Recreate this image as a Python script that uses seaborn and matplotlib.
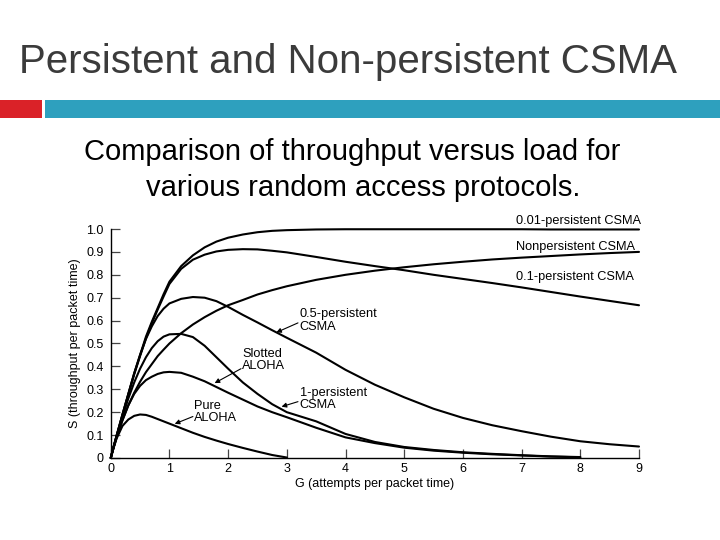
import matplotlib
matplotlib.use("Agg")
import matplotlib.pyplot as plt
import seaborn as sns
import pandas as pd
from matplotlib.patches import Rectangle

# ---------------- data ----------------
title = "Persistent and Non-persistent CSMA"
subtitle_1 = "Comparison of throughput versus load for"
subtitle_2 = "various random access protocols."
x_label = "G (attempts per packet time)"
y_label = "S (throughput per packet time)"

x_ticks = [0, 1, 2, 3, 4, 5, 6, 7, 8, 9]
x_tick_labels = ["0", "1", "2", "3", "4", "5", "6", "7", "8", "9"]
y_ticks = [0, 0.1, 0.2, 0.3, 0.4, 0.5, 0.6, 0.7, 0.8, 0.9, 1.0]
y_tick_labels = ["0", "0.1", "0.2", "0.3", "0.4", "0.5", "0.6", "0.7", "0.8", "0.9", "1.0"]

g_to_9 = [0, 0.05, 0.1, 0.2, 0.3, 0.4, 0.5, 0.6, 0.7, 0.8, 0.9, 1.0, 1.2, 1.4, 1.6, 1.8,
          2.0, 2.25, 2.5, 2.75, 3.0, 3.5, 4.0, 4.5, 5.0, 5.5, 6.0, 6.5, 7.0, 7.5, 8.0, 8.5, 9.0]
g_to_8 = g_to_9[:-2]
g_to_3 = [0, 0.05, 0.1, 0.2, 0.3, 0.4, 0.5, 0.6, 0.7, 0.8, 0.9, 1.0, 1.2, 1.4, 1.6, 1.8,
          2.0, 2.25, 2.5, 2.75, 3.0]

s_001_persistent = [0, 0.05, 0.098, 0.19, 0.28, 0.37, 0.45, 0.53, 0.595, 0.655, 0.715, 0.77,
                    0.838, 0.885, 0.92, 0.945, 0.962, 0.976, 0.986, 0.992, 0.995, 0.998, 0.999,
                    0.999, 0.999, 0.999, 0.999, 0.999, 0.999, 0.998, 0.998, 0.998, 0.998]
s_nonpersistent = [0, 0.047, 0.09, 0.165, 0.23, 0.285, 0.333, 0.375, 0.41, 0.445, 0.473, 0.5,
                   0.545, 0.583, 0.615, 0.643, 0.667, 0.69, 0.714, 0.733, 0.75, 0.778, 0.8,
                   0.818, 0.833, 0.846, 0.857, 0.867, 0.875, 0.882, 0.889, 0.895, 0.9]
s_01_persistent = [0, 0.05, 0.097, 0.188, 0.277, 0.365, 0.445, 0.522, 0.588, 0.648, 0.705, 0.76,
                   0.826, 0.866, 0.888, 0.902, 0.909, 0.912, 0.911, 0.905, 0.898, 0.878, 0.857,
                   0.838, 0.82, 0.80, 0.782, 0.764, 0.745, 0.725, 0.705, 0.686, 0.667]
s_05_persistent = [0, 0.05, 0.097, 0.19, 0.28, 0.37, 0.45, 0.52, 0.575, 0.62, 0.652, 0.675,
                   0.695, 0.703, 0.70, 0.685, 0.66, 0.625, 0.592, 0.558, 0.525, 0.46, 0.385,
                   0.32, 0.265, 0.215, 0.175, 0.143, 0.117, 0.093, 0.073, 0.06, 0.05]
s_1_persistent = [0, 0.048, 0.095, 0.18, 0.26, 0.33, 0.39, 0.44, 0.48, 0.51, 0.53, 0.54,
                  0.542, 0.528, 0.49, 0.44, 0.39, 0.33, 0.28, 0.235, 0.20, 0.16, 0.105,
                  0.07, 0.048, 0.035, 0.025, 0.018, 0.012, 0.007, 0.004]
s_slotted_aloha = [0, 0.047, 0.09, 0.165, 0.23, 0.28, 0.315, 0.34, 0.355, 0.367, 0.374, 0.376,
                   0.372, 0.355, 0.335, 0.31, 0.285, 0.255, 0.225, 0.2, 0.178, 0.132, 0.09,
                   0.065, 0.045, 0.032, 0.023, 0.016, 0.011, 0.006, 0.003]
s_pure_aloha = [0, 0.045, 0.085, 0.14, 0.168, 0.184, 0.19, 0.188, 0.18, 0.17, 0.16, 0.15,
                0.13, 0.11, 0.092, 0.076, 0.061, 0.044, 0.028, 0.013, 0.002]

series = [
    ("0.01-persistent CSMA", g_to_9, s_001_persistent),
    ("Nonpersistent CSMA", g_to_9, s_nonpersistent),
    ("0.1-persistent CSMA", g_to_9, s_01_persistent),
    ("0.5-persistent CSMA", g_to_9, s_05_persistent),
    ("1-persistent CSMA", g_to_8, s_1_persistent),
    ("Slotted ALOHA", g_to_8, s_slotted_aloha),
    ("Pure ALOHA", g_to_3, s_pure_aloha),
]

# ---------------- figure ----------------
sns.set_theme(style="ticks")
plt.rcParams["font.family"] = ["Liberation Sans", "DejaVu Sans"]

fig = plt.figure(figsize=(7.2, 5.4), dpi=100)
fig.patch.set_facecolor("white")

# slide header
fig.text(0.026, 0.8648, title, fontsize=29, color="#3b3b3b", ha="left", va="baseline")
fig.patches.append(Rectangle((0.0, 0.7815), 0.0583, 0.0333, transform=fig.transFigure,
                             facecolor="#da2228", edgecolor="none"))
fig.patches.append(Rectangle((0.0625, 0.7815), 0.9375, 0.0333, transform=fig.transFigure,
                             facecolor="#2ea0be", edgecolor="none"))
fig.text(0.1165, 0.7037, subtitle_1, fontsize=21, color="black", ha="left", va="baseline")
fig.text(0.203, 0.637, subtitle_2, fontsize=21, color="black", ha="left", va="baseline")

ax = fig.add_axes([0.1538, 0.1519, 0.7337, 0.424])
ax.set_facecolor("white")

for name, g, s in series:
    df = pd.DataFrame({"G": g, "S": s})
    sns.lineplot(data=df, x="G", y="S", ax=ax, color="black", linewidth=1.5,
                 sort=False, estimator=None, clip_on=False)

ax.set_xlim(0, 9)
ax.set_ylim(0, 1.0)
ax.set_xticks(x_ticks)
ax.set_xticklabels(x_tick_labels)
ax.set_yticks(y_ticks)
ax.set_yticklabels(y_tick_labels)
ax.tick_params(axis="both", direction="in", length=6.5, width=0.9, color="#444444",
               labelsize=9, labelcolor="black")
ax.tick_params(axis="y", pad=5)
ax.tick_params(axis="x", pad=3.5)
for side in ("top", "right"):
    ax.spines[side].set_visible(False)
for side in ("left", "bottom"):
    ax.spines[side].set_color("black")
    ax.spines[side].set_linewidth(1.0)

ax.set_xlabel(x_label, fontsize=9, color="black", labelpad=2)
ax.set_ylabel(y_label, fontsize=9, color="black", labelpad=4)

# curve labels
lab_kw = dict(fontsize=9.2, color="black", ha="left", va="center")
ax.text(6.91, 1.036, "0.01-persistent CSMA", clip_on=False, **lab_kw)
ax.text(6.91, 0.923, "Nonpersistent CSMA", **lab_kw)
ax.text(6.91, 0.789, "0.1-persistent CSMA", **lab_kw)
ax.text(3.22, 0.60, "0.5-persistent\nCSMA", linespacing=1.05, **lab_kw)
ax.text(3.22, 0.257, "1-persistent\nCSMA", linespacing=1.05, **lab_kw)
ax.text(2.24, 0.428, "Slotted\nALOHA", linespacing=1.05, **lab_kw)
ax.text(1.42, 0.20, "Pure\nALOHA", linespacing=1.05, **lab_kw)

arrow_kw = dict(arrowstyle="-|>", color="black", lw=0.8, mutation_scale=7,
                shrinkA=0, shrinkB=0)
ax.annotate("", xy=(2.82, 0.548), xytext=(3.19, 0.59), arrowprops=arrow_kw)
ax.annotate("", xy=(2.91, 0.224), xytext=(3.19, 0.246), arrowprops=arrow_kw)
ax.annotate("", xy=(1.77, 0.327), xytext=(2.22, 0.39), arrowprops=arrow_kw)
ax.annotate("", xy=(1.09, 0.149), xytext=(1.40, 0.181), arrowprops=arrow_kw)

fig.savefig("out.png", dpi=100, facecolor="white")
